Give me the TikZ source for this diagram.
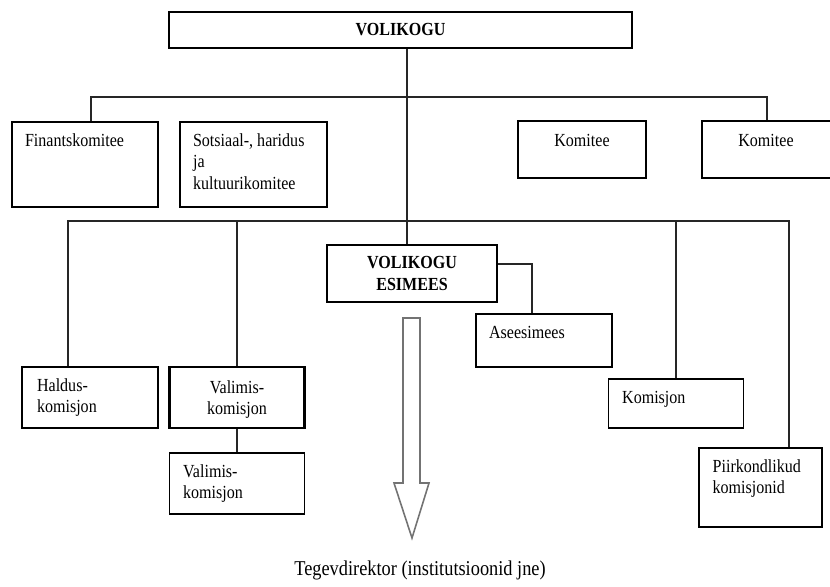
\documentclass[tikz,border=0pt]{standalone}
\usepackage{fontspec}
\setmainfont{Liberation Serif}[FakeStretch=0.87]
\usepackage{tikz}
\usetikzlibrary{positioning}

\tikzset{
	box/.style={draw, rectangle, inner sep=0pt, line width=0.8pt, fill=white},
	mainbox/.style={box, line width=1.5pt},
	toptxt/.style={anchor=north west, inner sep=0pt, align=left, xshift=0.28cm, yshift=-0.26cm},
	midtxt/.style={anchor=north, inner sep=0pt, align=center, yshift=-0.27cm},
	link/.style={draw=black!85, line width=0.75pt},
	hollow/.style={draw=black!55, line width=0.9pt, fill=white, line join=miter}
}

\begin{document}
\begin{tikzpicture}[x=0.02cm, y=-0.02cm, font=\fontsize{10.5}{12}\selectfont]

	\useasboundingbox (0,0) rectangle (830,586);

	% top level
	\node[mainbox, minimum width=9.26cm, minimum height=0.72cm, font=\fontsize{10.5}{12}\selectfont\bfseries]
		(volikogu) at (400.5,30) {VOLIKOGU};

	% committees
	\node[mainbox, minimum width=2.92cm, minimum height=1.70cm,
		label={[toptxt]north west:Finantskomitee}] (finants) at (85,164.5) {};
	\node[mainbox, minimum width=2.94cm, minimum height=1.70cm,
		label={[toptxt]north west:{Sotsiaal-, haridus\\ja\\kultuurikomitee}}] (sotsiaal) at (253.5,164.5) {};
	\node[box, minimum width=2.56cm, minimum height=1.14cm,
		label={[midtxt]north:Komitee}] (komiteeA) at (582,149.5) {};
	\node[box, minimum width=2.68cm, minimum height=1.14cm,
		label={[midtxt, xshift=-0.06cm]north:Komitee}] (komiteeB) at (769,149.5) {};

	% chairman
	\node[mainbox, minimum width=3.40cm, minimum height=1.14cm, align=center,
		font=\fontsize{10.5}{12}\selectfont\bfseries] (esimees) at (412,273.5) {VOLIKOGU\\ESIMEES};
	\node[mainbox, minimum width=2.72cm, minimum height=1.06cm,
		label={[toptxt]north west:Aseesimees}] (ases) at (544,340.5) {};

	% commissions
	\node[mainbox, minimum width=2.72cm, minimum height=1.22cm,
		label={[toptxt, xshift=0.04cm]north west:{Haldus-\\komisjon}}] (haldus) at (90,397.5) {};
	\node[mainbox, minimum width=2.70cm, minimum height=1.22cm,
		label={[midtxt, yshift=-0.02cm]north:{Valimis-\\komisjon}}] (valimisA) at (237,397.5) {};
	\node[box, minimum width=2.70cm, minimum height=1.22cm,
		label={[toptxt, yshift=0.02cm]north west:{Valimis-\\komisjon}}] (valimisB) at (237,483.5) {};
	\node[box, minimum width=2.70cm, minimum height=0.98cm,
		label={[toptxt]north west:Komisjon}] (komisjon) at (676,403.5) {};
	\node[box, minimum width=2.46cm, minimum height=1.58cm,
		label={[toptxt, yshift=0.02cm]north west:{Piirkondlikud\\komisjonid}}] (piirk) at (760.5,487.5) {};

	\node[inner sep=0pt, font=\fontsize{12}{14}\selectfont] (tegev) at (420,570) {Tegevdirektor (institutsioonid jne)};

	% bus lines
	\coordinate (busA) at (407,97);
	\coordinate (busBl) at (68,221);
	\coordinate (busBr) at (789,221);

	\draw[link] (volikogu.south -| busA) -- (esimees.north -| busA);
	\draw[link] (finants.north -| 91,0) |- (busA) -| (komiteeB.north -| 767,0);
	\draw[link] (sotsiaal.north -| 248,0) -- (sotsiaal.north -| 248,0 |- busA);
	\draw[link] (komiteeA.north -| 586,0) -- (komiteeA.north -| 586,0 |- busA);

	\draw[link] (haldus.north -| busBl) -- (busBl) -- (busBr) -- (piirk.north -| busBr);
	\draw[link] (valimisA.north) -- (valimisA.north |- busBl);
	\draw[link] (komisjon.north) -- (komisjon.north |- busBl);
	\draw[link] (valimisA.south) -- (valimisB.north);
	\draw[link] (esimees.east |- 0,264) -| (ases.north -| 532,0);

	% hollow arrow to the director
	\draw[hollow] (403,318) -- (403,483) -- (394,483) -- (412,538)
		-- (429,483) -- (420,483) -- (420,318) -- cycle;

\end{tikzpicture}
\end{document}
